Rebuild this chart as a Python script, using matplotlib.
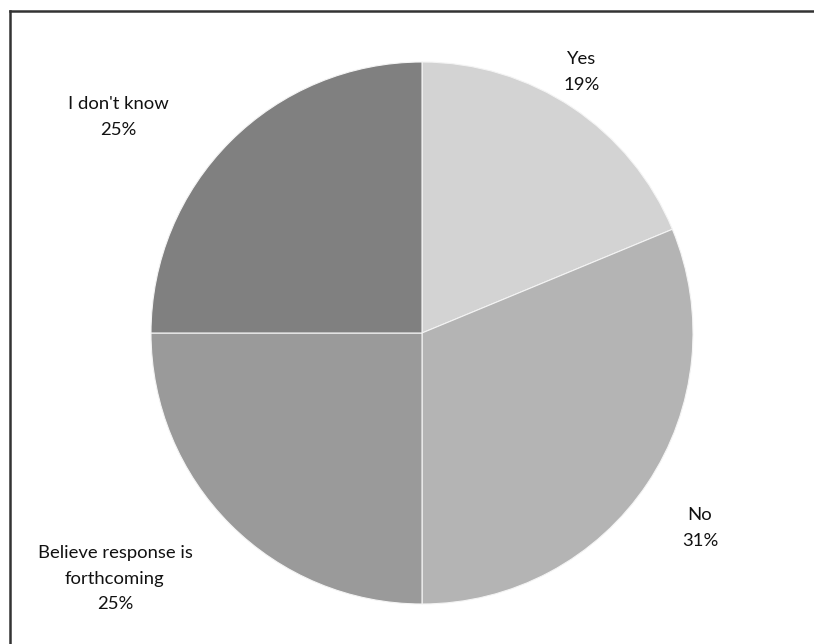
import matplotlib.pyplot as plt
from matplotlib.lines import Line2D

plt.rcParams['font.family'] = ['Lato', 'DejaVu Sans']

# survey answers (respondent counts), clockwise from 12 o'clock
categories = ['Yes', 'No', 'Believe response is\nforthcoming', "I don't know"]
counts = [3, 5, 4, 4]
colors = ['#d3d3d3', '#b4b4b4', '#9a9a9a', '#808080']

# label anchors around the pie, in data units (pie radius = 1)
label_pos = [(0.59, 0.962), (1.026, -0.72), (-1.133, -0.906), (-1.122, 0.797)]

W, H = 814, 644
fig = plt.figure(figsize=(W / 100, H / 100), dpi=100)

cx, cy, r = 422, 333, 271
ax = fig.add_axes([(cx - r) / W, (H - cy - r) / H, 2 * r / W, 2 * r / H])
ax.pie(counts, colors=colors, startangle=90, counterclock=False, radius=1,
       wedgeprops=dict(edgecolor='#f4f4f4', linewidth=0.8))
ax.set_xlim(-1, 1)
ax.set_ylim(-1, 1)
ax.set_aspect('equal')
ax.axis('off')

total = sum(counts)
for name, n, (x, y) in zip(categories, counts, label_pos):
    pct = round(100 * n / total)
    ax.text(x, y, f'{name}\n{pct}%', ha='center', va='center',
            fontsize=13.3, linespacing=1.75, color='#111111', clip_on=False)

# chart border (only top and left edges visible)
fig.add_artist(Line2D([9.5 / W, 9.5 / W], [0, 1 - 10.5 / H],
                      transform=fig.transFigure, color='#333333', lw=1.8))
fig.add_artist(Line2D([9.5 / W, 1], [1 - 10.5 / H, 1 - 10.5 / H],
                      transform=fig.transFigure, color='#333333', lw=1.8))

fig.savefig('out.png', dpi=100)
